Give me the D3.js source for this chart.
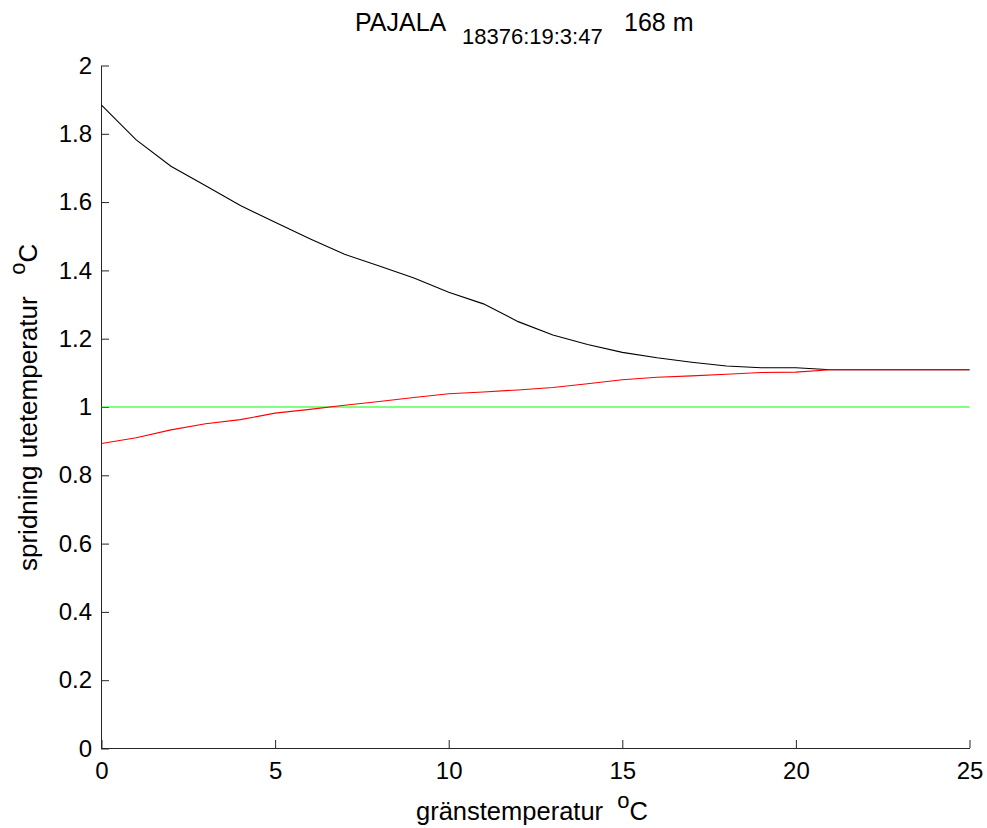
<!DOCTYPE html>
<html>
<head>
<meta charset="utf-8">
<script src="https://cdn.jsdelivr.net/npm/d3@7"></script>
<style>
  body { margin: 0; background: #fff; }
  svg { font-family: "Liberation Sans", Arial, sans-serif; }
  .axis text { font-size: 24px; fill: #000; }
</style>
</head>
<body>
<div id="chart"></div>
<script>
// gränstemperatur (x)
var temps = d3.range(0, 26);

// upper curve (black)
var upper = [1.884, 1.782, 1.705, 1.648, 1.590, 1.541, 1.493, 1.447, 1.413, 1.378,
             1.336, 1.302, 1.250, 1.211, 1.183, 1.160, 1.144, 1.131, 1.120, 1.115,
             1.115, 1.109, 1.109, 1.109, 1.109, 1.109];

// lower curve (red)
var lower = [0.893, 0.910, 0.933, 0.951, 0.963, 0.982, 0.993, 1.005, 1.016, 1.028,
             1.039, 1.044, 1.050, 1.057, 1.068, 1.080, 1.087, 1.091, 1.096, 1.101,
             1.102, 1.109, 1.109, 1.109, 1.109, 1.109];

// reference line (green)
var refLevel = 1;

var xTicks = [0, 5, 10, 15, 20, 25],
    yTicks = [0, 0.2, 0.4, 0.6, 0.8, 1, 1.2, 1.4, 1.6, 1.8, 2];

var width = 987, height = 828;
var margin = {top: 65, right: 18, bottom: 80, left: 101};
var w = width - margin.left - margin.right,
    h = height - margin.top - margin.bottom;

var svg = d3.select("#chart").append("svg")
    .attr("width", width)
    .attr("height", height);

var g = svg.append("g")
    .attr("transform", "translate(" + margin.left + "," + margin.top + ")");

var x = d3.scaleLinear().domain([0, 25]).range([0.5, w + 0.5]);
var y = d3.scaleLinear().domain([0, 2]).range([h + 0.5, 0.5]);

// axes, ticks pointing inwards
g.append("g")
    .attr("class", "axis")
    .attr("transform", "translate(0," + h + ")")
    .call(d3.axisBottom(x).tickValues(xTicks).tickSizeInner(-8).tickSizeOuter(0)
        .tickPadding(14).tickFormat(d3.format("d")));

g.append("g")
    .attr("class", "axis")
    .call(d3.axisLeft(y).tickValues(yTicks).tickSizeInner(-8).tickSizeOuter(0)
        .tickPadding(9).tickFormat(function (d) { return d3.format("~g")(d); }));

g.selectAll(".axis path, .axis line").attr("stroke", "#262626");

var line = d3.line()
    .x(function (d, i) { return x(temps[i]); })
    .y(function (d) { return y(d); });

g.append("path")
    .datum(temps.map(function () { return refLevel; }))
    .attr("d", line)
    .attr("fill", "none")
    .attr("stroke", "#00ff00")
    .attr("stroke-width", 1);

g.append("path")
    .datum(upper)
    .attr("d", line)
    .attr("fill", "none")
    .attr("stroke", "#000")
    .attr("stroke-width", 1.1);

g.append("path")
    .datum(lower)
    .attr("d", line)
    .attr("fill", "none")
    .attr("stroke", "#ff0000")
    .attr("stroke-width", 1.1);

// title
svg.append("text").attr("x", 355).attr("y", 31).attr("font-size", 25).text("PAJALA");
svg.append("text").attr("x", 462).attr("y", 44).attr("font-size", 22).text("18376:19:3:47");
svg.append("text").attr("x", 624).attr("y", 31).attr("font-size", 25).text("168 m");

// x label
var xl = svg.append("text")
    .attr("x", 416)
    .attr("y", 820)
    .attr("font-size", 25.5)
    .attr("xml:space", "preserve");
xl.append("tspan").text("gränstemperatur  ");
xl.append("tspan").attr("font-size", 22).attr("dy", -12).text("o");
xl.append("tspan").attr("dy", 12).text("C");

// y label
var yl = svg.append("text")
    .attr("transform", "translate(37,571) rotate(-90)")
    .attr("font-size", 26)
    .attr("xml:space", "preserve");
yl.append("tspan").text("spridning utetemperatur   ");
yl.append("tspan").attr("font-size", 22).attr("dy", -12).text("o");
yl.append("tspan").attr("dy", 12).text("C");
</script>
</body>
</html>
